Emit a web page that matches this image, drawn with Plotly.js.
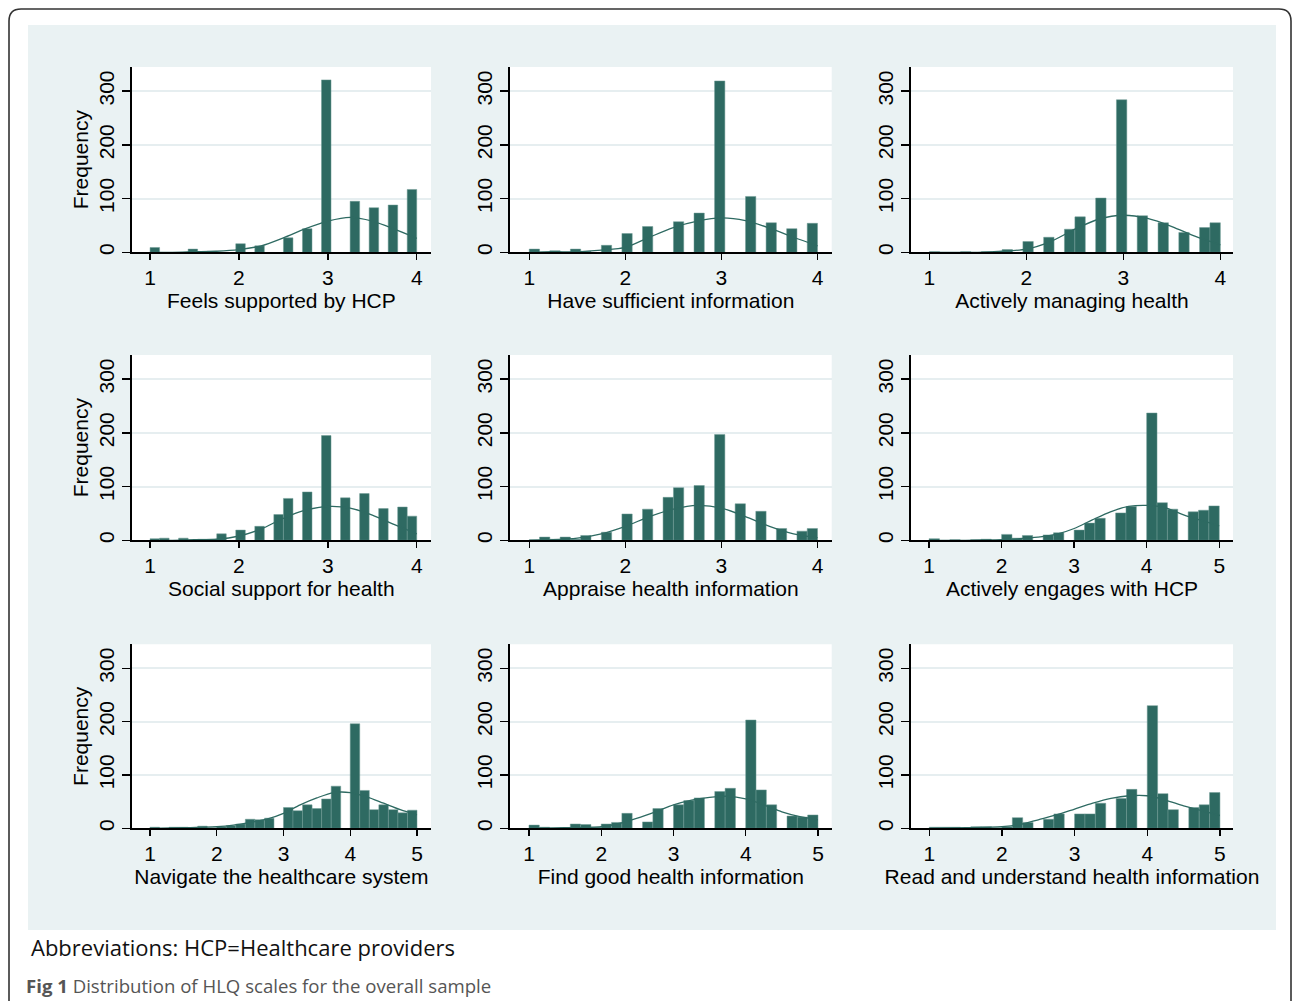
<!DOCTYPE html>
<html>
<head>
<meta charset="utf-8">
<script src="https://cdn.plot.ly/plotly-3.0.1.min.js"></script>
<style>html,body{margin:0;padding:0;background:#fff;}#chart{width:1292px;height:1001px;}</style>
</head>
<body>
<div id="chart"></div>
<script>
// ---------- data ----------
const scaleTitles = [
  "Feels supported by HCP", "Have sufficient information", "Actively managing health",
  "Social support for health", "Appraise health information", "Actively engages with HCP",
  "Navigate the healthcare system", "Find good health information", "Read and understand health information"
];
const yTickVals = [0, 100, 200, 300];
const xTicks4 = [1, 2, 3, 4];
const xTicks5 = [1, 2, 3, 4, 5];
const binWidth4 = 3 / 28;   // bin width for 1-4 scales
const binWidth5 = 4 / 28;   // bin width for 1-5 scales

// bin midpoints and frequencies
const binX1 = [1.054, 1.482, 1.696, 2.018, 2.232, 2.554, 2.768, 2.982, 3.304, 3.518, 3.732, 3.946];
const freq1 = [9, 6, 2, 16, 12, 27, 44, 321, 95, 83, 88, 117];
const binX2 = [1.054, 1.268, 1.482, 1.589, 1.804, 2.018, 2.232, 2.554, 2.768, 2.982, 3.304, 3.518, 3.732, 3.946];
const freq2 = [6, 3, 6, 2, 13, 35, 48, 57, 73, 319, 104, 55, 44, 54];
const binX3 = [1.054, 1.375, 1.589, 1.804, 2.018, 2.232, 2.446, 2.554, 2.768, 2.982, 3.196, 3.411, 3.625, 3.839, 3.946];
const freq3 = [1, 1, 1, 5, 20, 28, 43, 66, 101, 284, 68, 55, 37, 46, 55];
const binX4 = [1.054, 1.161, 1.375, 1.589, 1.696, 1.804, 2.018, 2.232, 2.446, 2.554, 2.768, 2.982, 3.196, 3.411, 3.625, 3.839, 3.946];
const freq4 = [3, 4, 4, 2, 2, 12, 19, 26, 48, 78, 90, 195, 79, 87, 59, 62, 45];
const binX5 = [1.054, 1.161, 1.268, 1.375, 1.482, 1.589, 1.804, 2.018, 2.232, 2.446, 2.554, 2.768, 2.982, 3.196, 3.411, 3.625, 3.839, 3.946];
const freq5 = [1, 6, 2, 6, 2, 9, 15, 49, 58, 80, 98, 102, 197, 68, 54, 22, 17, 22];
const binX6 = [1.071, 1.357, 1.643, 1.786, 2.071, 2.214, 2.357, 2.643, 2.786, 3.071, 3.214, 3.357, 3.643, 3.786, 4.071, 4.214, 4.357, 4.643, 4.786, 4.929];
const freq6 = [3, 1, 1, 2, 11, 4, 9, 10, 14, 19, 32, 41, 51, 63, 237, 70, 58, 53, 56, 64];
const binX7 = [1.071, 1.357, 1.5, 1.786, 1.929, 2.071, 2.214, 2.357, 2.5, 2.643, 2.786, 3.071, 3.214, 3.357, 3.5, 3.643, 3.786, 4.071, 4.214, 4.357, 4.5, 4.643, 4.786, 4.929];
const freq7 = [2, 2, 2, 4, 1, 3, 5, 8, 17, 16, 19, 39, 33, 44, 37, 55, 79, 196, 71, 35, 44, 35, 29, 34];
const binX8 = [1.071, 1.214, 1.5, 1.643, 1.786, 1.929, 2.071, 2.214, 2.357, 2.643, 2.786, 3.071, 3.214, 3.357, 3.643, 3.786, 4.071, 4.214, 4.357, 4.643, 4.786, 4.929];
const freq8 = [6, 2, 1, 8, 7, 2, 8, 11, 28, 12, 37, 44, 52, 57, 69, 75, 203, 72, 44, 23, 21, 25];
const binX9 = [1.071, 1.214, 1.357, 1.643, 1.786, 1.929, 2.071, 2.214, 2.357, 2.643, 2.786, 3.071, 3.214, 3.357, 3.643, 3.786, 4.071, 4.214, 4.357, 4.643, 4.786, 4.929];
const freq9 = [2, 2, 2, 3, 3, 1, 3, 20, 11, 17, 27, 27, 27, 47, 56, 73, 230, 65, 35, 39, 44, 67];

// normal-curve overlay, points
const curveX4 = [1.0, 1.25, 1.5, 1.75, 2.0, 2.25, 2.5, 2.75, 3.0, 3.25, 3.5, 3.75, 4.0];
const curveY1 = [0, 0, 1, 2, 5, 12, 27, 44, 58, 65, 58, 43, 26];
const curveY2 = [0, 1, 1, 4, 9, 28, 46, 58, 64, 59, 45, 28, 12];
const curveY3 = [0, 0, 0, 2, 6, 20, 43, 62, 69, 63, 48, 29, 14];
const curveY4 = [0, 0, 1, 2, 8, 21, 41, 56, 63, 60, 47, 29, 12];
const curveY5 = [0, 1, 4, 12, 26, 44, 58, 65, 60, 44, 26, 12, 5];
const curveX5 = [1.0, 1.5, 2.0, 2.25, 2.5, 2.75, 3.0, 3.25, 3.5, 3.75, 4.0, 4.25, 4.5, 4.75, 5.0];
const curveY6 = [0, 0, 1, 3, 6, 11, 22, 38, 53, 63, 65, 61, 48, 37, 27];
const curveY7 = [0, 1, 3, 6, 11, 17, 28, 44, 57, 67, 67, 59, 47, 35, 25];
const curveY8 = [0, 1, 3, 9, 19, 31, 44, 53, 58, 60, 55, 44, 31, 22, 16];
const curveY9 = [0, 1, 3, 7, 16, 25, 36, 47, 56, 61, 61, 53, 42, 33, 24];

const annotationText = "Abbreviations: HCP=Healthcare providers";
const captionBold = "Fig 1";
const captionText = "Distribution of HLQ scales for the overall sample";

// ---------- layout helpers ----------
const W = 1292, H = 1001;
const px = v => v / W;
const py = v => 1 - v / H;

const barColor = "#2e6a62";
const gridColor = "#e6eef0";
const panelColor = "#eaf2f3";
const fs = 21;

const panels = [
  {bx: binX1, f: freq1, cx: curveX4, cy: curveY1, w: binWidth4, ticks: xTicks4, range: [0.794, 4.16]},
  {bx: binX2, f: freq2, cx: curveX4, cy: curveY2, w: binWidth4, ticks: xTicks4, range: [0.80, 4.147]},
  {bx: binX3, f: freq3, cx: curveX4, cy: curveY3, w: binWidth4, ticks: xTicks4, range: [0.811, 4.13]},
  {bx: binX4, f: freq4, cx: curveX4, cy: curveY4, w: binWidth4, ticks: xTicks4, range: [0.794, 4.16]},
  {bx: binX5, f: freq5, cx: curveX4, cy: curveY5, w: binWidth4, ticks: xTicks4, range: [0.80, 4.147]},
  {bx: binX6, f: freq6, cx: curveX5, cy: curveY6, w: binWidth5, ticks: xTicks5, range: [0.75, 5.19]},
  {bx: binX7, f: freq7, cx: curveX5, cy: curveY7, w: binWidth5, ticks: xTicks5, range: [0.726, 5.21]},
  {bx: binX8, f: freq8, cx: curveX5, cy: curveY8, w: binWidth5, ticks: xTicks5, range: [0.737, 5.19]},
  {bx: binX9, f: freq9, cx: curveX5, cy: curveY9, w: binWidth5, ticks: xTicks5, range: [0.748, 5.18]}
];

// plot-area pixel boxes
const colPx = [[131.7, 431], [510, 831.7], [911, 1233]];
const rowPx = [[67, 252.3], [355, 540.3], [644.3, 828.3]];

const traces = [];
const layout = {
  width: W, height: H,
  margin: {l: 0, r: 0, t: 0, b: 0},
  paper_bgcolor: "#ffffff",
  plot_bgcolor: "rgba(0,0,0,0)",
  showlegend: false,
  hovermode: false,
  font: {family: "Liberation Sans, Arial, sans-serif", size: fs, color: "#000"},
  shapes: [],
  annotations: []
};

// background panel
layout.shapes.push({type: "rect", xref: "paper", yref: "paper", layer: "below",
  x0: px(28), x1: px(1276), y0: py(930), y1: py(25), line: {width: 0}, fillcolor: panelColor});
// outer rounded border
const r = 12;
const borderPath = `M ${px(9)},${py(1001)} L ${px(9)},${py(9 + r)} Q ${px(9)},${py(9)} ${px(9 + r)},${py(9)} ` +
  `L ${px(1291 - r)},${py(9)} Q ${px(1291)},${py(9)} ${px(1291)},${py(9 + r)} L ${px(1291)},${py(1001)}`;
layout.shapes.push({type: "path", xref: "paper", yref: "paper", layer: "below",
  path: borderPath, line: {color: "#333", width: 1.6}});

panels.forEach((p, i) => {
  const n = i + 1;
  const col = i % 3, row = Math.floor(i / 3);
  const xa = n === 1 ? "x" : "x" + n;
  const ya = n === 1 ? "y" : "y" + n;
  const xKey = n === 1 ? "xaxis" : "xaxis" + n;
  const yKey = n === 1 ? "yaxis" : "yaxis" + n;
  const xd = [px(colPx[col][0]), px(colPx[col][1])];
  const yd = [py(rowPx[row][1]), py(rowPx[row][0])];

  // white plot region
  layout.shapes.push({type: "rect", xref: "paper", yref: "paper", layer: "below",
    x0: xd[0], x1: xd[1], y0: yd[0], y1: yd[1], line: {width: 0}, fillcolor: "#ffffff"});

  traces.push({
    type: "bar", x: p.bx, y: p.f, width: p.w, xaxis: xa, yaxis: ya,
    marker: {color: barColor, line: {color: "#6f9a94", width: 0.5}}
  });
  traces.push({
    type: "scatter", mode: "lines", x: p.cx, y: p.cy, xaxis: xa, yaxis: ya,
    line: {color: barColor, width: 1.3, shape: "spline", smoothing: 0.8}
  });

  layout[xKey] = {
    domain: xd, anchor: ya, range: p.range, tickvals: p.ticks,
    showline: true, linecolor: "#000", linewidth: 1.6,
    ticks: "outside", ticklen: 6, tickwidth: 1.4, tickcolor: "#000",
    showgrid: false, zeroline: false,
    tickfont: {size: fs},
    title: {text: scaleTitles[i], font: {size: fs}, standoff: 0}
  };
  layout[yKey] = {
    domain: yd, anchor: xa, range: [0, 345], tickvals: yTickVals, tickangle: -90,
    showline: true, linecolor: "#000", linewidth: 1.6,
    ticks: "outside", ticklen: 8, tickwidth: 1.4, tickcolor: "#000",
    showgrid: true, gridcolor: gridColor, gridwidth: 2, zeroline: false,
    tickfont: {size: fs},
    title: col === 0 ? {text: "Frequency", font: {size: fs}, standoff: 0} : {text: ""}
  };
});

layout.annotations.push({
  text: annotationText, xref: "paper", yref: "paper", x: px(29), y: py(947),
  xanchor: "left", yanchor: "middle", showarrow: false,
  font: {family: "Open Sans, sans-serif", size: 22, color: "#111"}
});
layout.annotations.push({
  text: "<b>" + captionBold + "</b> " + captionText, xref: "paper", yref: "paper", x: px(24), y: py(985),
  xanchor: "left", yanchor: "middle", showarrow: false,
  font: {family: "Open Sans, sans-serif", size: 18.6, color: "#555"}
});

Plotly.newPlot("chart", traces, layout, {staticPlot: true});
</script>
</body>
</html>
